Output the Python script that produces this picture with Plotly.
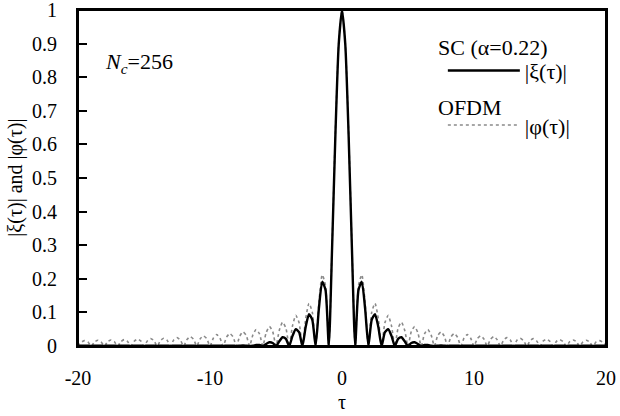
import plotly.graph_objects as go

# sampling positions of tau (step 0.25 from -20 to 20)
tau = [i / 4 for i in range(-80, 81)]

# |xi(tau)| for SC (alpha=0.22), tau = 0 .. 20
sc_pos = [1.000, 0.897, 0.629, 0.293,
          0, 0.167, 0.191, 0.112,
          0, 0.078, 0.095, 0.057,
          0, 0.041, 0.050, 0.030,
          0, 0.021, 0.026, 0.014,
          0, 0.009, 0.011, 0.006,
          0, 0.003, 0.003, 0.001,
          0, 0.001, 0.002, 0.001,
          0, 0.001, 0.001, 0.001,
          0, 0.001, 0.001, 0.001,
          0, 0.001, 0.001, 0.001,
          0, 0.001, 0.001, 0.001,
          0, 0.001, 0.001, 0.001,
          0, 0.001, 0.001, 0.001,
          0, 0.001, 0.001, 0.001,
          0, 0.001, 0.001, 0.001,
          0, 0.001, 0.001, 0.001,
          0, 0.001, 0.001, 0.001,
          0, 0.001, 0.001, 0.001,
          0, 0.001, 0.001, 0.001,
          0]
sc_neg = [0,
          0.001, 0.001, 0.001, 0,
          0.001, 0.001, 0.001, 0,
          0.001, 0.001, 0.001, 0,
          0.001, 0.001, 0.001, 0,
          0.001, 0.001, 0.001, 0,
          0.001, 0.001, 0.001, 0,
          0.001, 0.001, 0.001, 0,
          0.001, 0.001, 0.001, 0,
          0.001, 0.001, 0.001, 0,
          0.001, 0.001, 0.001, 0,
          0.001, 0.001, 0.001, 0,
          0.001, 0.001, 0.001, 0,
          0.001, 0.002, 0.001, 0,
          0.001, 0.003, 0.003, 0,
          0.006, 0.011, 0.009, 0,
          0.014, 0.026, 0.021, 0,
          0.030, 0.050, 0.041, 0,
          0.057, 0.095, 0.078, 0,
          0.112, 0.191, 0.167, 0,
          0.293, 0.629, 0.897]

# |phi(tau)| for OFDM (Nc=256), tau = 0 .. 20
ofdm_pos = [1.000, 0.900, 0.637, 0.300,
            0, 0.180, 0.212, 0.129,
            0, 0.100, 0.127, 0.082,
            0, 0.069, 0.091, 0.060,
            0, 0.053, 0.071, 0.047,
            0, 0.043, 0.058, 0.039,
            0, 0.036, 0.049, 0.033,
            0, 0.031, 0.042, 0.029,
            0, 0.027, 0.037, 0.026,
            0, 0.024, 0.034, 0.023,
            0, 0.022, 0.030, 0.021,
            0, 0.020, 0.028, 0.019,
            0, 0.018, 0.025, 0.018,
            0, 0.017, 0.023, 0.016,
            0, 0.016, 0.022, 0.015,
            0, 0.015, 0.020, 0.014,
            0, 0.014, 0.019, 0.013,
            0, 0.013, 0.018, 0.013,
            0, 0.012, 0.017, 0.012,
            0, 0.012, 0.016, 0.011,
            0]
ofdm_neg = [0,
            0.011, 0.016, 0.012, 0,
            0.012, 0.017, 0.012, 0,
            0.013, 0.018, 0.013, 0,
            0.013, 0.019, 0.014, 0,
            0.014, 0.020, 0.015, 0,
            0.015, 0.022, 0.016, 0,
            0.016, 0.023, 0.017, 0,
            0.018, 0.025, 0.018, 0,
            0.019, 0.028, 0.020, 0,
            0.021, 0.030, 0.022, 0,
            0.023, 0.034, 0.024, 0,
            0.026, 0.037, 0.027, 0,
            0.029, 0.042, 0.031, 0,
            0.033, 0.049, 0.036, 0,
            0.039, 0.058, 0.043, 0,
            0.047, 0.071, 0.053, 0,
            0.060, 0.091, 0.069, 0,
            0.082, 0.127, 0.100, 0,
            0.129, 0.212, 0.180, 0,
            0.300, 0.637, 0.900]

sc_vals = sc_neg + sc_pos
ofdm_vals = ofdm_neg + ofdm_pos

x_ticks = [-20, -10, 0, 10, 20]
x_labels = ["-20", "-10", "0", "10", "20"]
y_ticks = [0, 0.1, 0.2, 0.3, 0.4, 0.5, 0.6, 0.7, 0.8, 0.9, 1]
y_labels = ["0", "0.1", "0.2", "0.3", "0.4", "0.5", "0.6", "0.7", "0.8", "0.9", "1"]

FONT = "Liberation Serif"

fig = go.Figure()
fig.add_trace(go.Scatter(
    x=tau, y=ofdm_vals, mode="lines", name="|φ(τ)|",
    line=dict(color="#8a8a8a", width=1.6, dash="dot", shape="spline", smoothing=0.6),
    legendgroup="ofdm", legendrank=2,
))
fig.add_trace(go.Scatter(
    x=tau, y=sc_vals, mode="lines", name="|ξ(τ)|",
    line=dict(color="black", width=2.4, shape="spline", smoothing=0.6),
    legendgroup="sc", legendrank=1,
))

fig.update_layout(
    width=620, height=416,
    margin=dict(l=78, r=14, t=10, b=70, autoexpand=False),
    paper_bgcolor="white", plot_bgcolor="white",
    font=dict(family=FONT, size=20, color="black"),
    showlegend=True,
    legend=dict(x=0.691, y=0.882, xanchor="left", yanchor="top",
                bgcolor="rgba(0,0,0,0)",
                font=dict(size=22, family=FONT, color="black"),
                itemwidth=72, tracegroupgap=23, traceorder="grouped"),
    xaxis=dict(range=[-20, 20], tickvals=x_ticks, ticktext=x_labels, ticks="",
               showline=True, linecolor="black", linewidth=2, mirror=True,
               showgrid=False, zeroline=False, ticklabelstandoff=13,
               automargin=False, tickfont=dict(size=20, family=FONT, color="black")),
    yaxis=dict(range=[0, 1], tickvals=y_ticks, ticktext=y_labels,
               ticks="inside", ticklen=9, tickwidth=1.5, tickcolor="black",
               showline=True, linecolor="black", linewidth=2, mirror=True,
               showgrid=False, zeroline=False, ticklabelstandoff=15,
               ticklabeloverflow="allow",
               automargin=False, tickfont=dict(size=20, family=FONT, color="black")),
    shapes=[
        dict(type="rect", xref="paper", yref="paper", x0=0, x1=1, y0=0, y1=1,
             line=dict(color="black", width=2), fillcolor="rgba(0,0,0,0)", layer="above"),
    ],
    annotations=[
        dict(text="|ξ(τ)| and |φ(τ)|", textangle=-90, xref="paper", yref="paper",
             x=-0.12, y=0.5, xanchor="center", yanchor="middle",
             showarrow=False, font=dict(size=20, family=FONT)),
        dict(text="τ", xref="paper", yref="paper", x=0.5, y=-0.168,
             xanchor="center", yanchor="middle", showarrow=False,
             font=dict(size=20, family=FONT)),
        dict(text="<i>N<sub>c</sub></i>=256", xref="paper", yref="paper",
             x=0.048, y=0.842, xanchor="left", yanchor="middle",
             showarrow=False, font=dict(size=22, family=FONT)),
        dict(text="SC (α=0.22)", xref="paper", yref="paper",
             x=0.678, y=0.887, xanchor="left", yanchor="middle",
             showarrow=False, font=dict(size=22, family=FONT)),
        dict(text="OFDM", xref="paper", yref="paper",
             x=0.678, y=0.711, xanchor="left", yanchor="middle",
             showarrow=False, font=dict(size=22, family=FONT)),
    ],
)

fig.write_html("out.html", config={"displayModeBar": False},
               post_script="document.body.style.margin='0px';")
